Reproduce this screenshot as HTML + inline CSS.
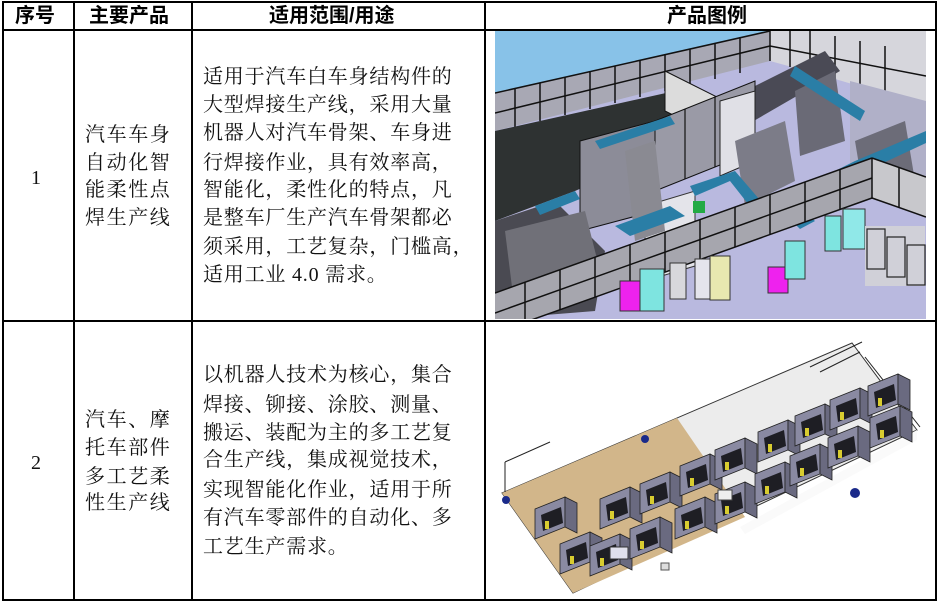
<!DOCTYPE html>
<html><head><meta charset="utf-8">
<style>
html,body{margin:0;padding:0;background:#fff;}
#p{position:relative;width:938px;height:601px;overflow:hidden;background:#fff;}
.l{position:absolute;background:#000;}
.t{position:absolute;font-family:"Liberation Serif","Noto Serif CJK SC",serif;font-size:20px;color:#111;white-space:nowrap;line-height:24px;}
.h{position:absolute;font-family:"Liberation Sans","Noto Sans CJK SC",sans-serif;font-weight:bold;font-size:20px;color:#000;white-space:nowrap;line-height:24px;top:4px;}
.c3{left:203px;letter-spacing:0.8px;}
.c2{left:85px;letter-spacing:1.6px;}
</style></head><body><div id="p">
<div class="l" style="left:2px;top:1px;width:935px;height:2px"></div>
<div class="l" style="left:2px;top:29px;width:935px;height:2px"></div>
<div class="l" style="left:2px;top:320px;width:935px;height:2px"></div>
<div class="l" style="left:2px;top:599px;width:935px;height:2px"></div>
<div class="l" style="left:2px;top:1px;width:2px;height:600px"></div>
<div class="l" style="left:73px;top:1px;width:2px;height:600px"></div>
<div class="l" style="left:191px;top:1px;width:2px;height:600px"></div>
<div class="l" style="left:484px;top:1px;width:2px;height:600px"></div>
<div class="l" style="left:935px;top:1px;width:2px;height:600px"></div>

<div class="h" style="left:15px">序号</div>
<div class="h" style="left:89px">主要产品</div>
<div class="h" style="left:269px">适用范围/用途</div>
<div class="h" style="left:667px">产品图例</div>

<div class="t" style="left:31px;top:166px">1</div>
<div class="t" style="left:31px;top:451px">2</div>

<div class="t c2" style="top:123px">汽车车身</div>
<div class="t c2" style="top:151px">自动化智</div>
<div class="t c2" style="top:178px">能柔性点</div>
<div class="t c2" style="top:206px">焊生产线</div>

<div class="t c2" style="top:408px">汽车、摩</div>
<div class="t c2" style="top:436px">托车部件</div>
<div class="t c2" style="top:465px">多工艺柔</div>
<div class="t c2" style="top:491px">性生产线</div>

<div class="t c3" style="top:65px">适用于汽车白车身结构件的</div>
<div class="t c3" style="top:93px">大型焊接生产线，采用大量</div>
<div class="t c3" style="top:121px">机器人对汽车骨架、车身进</div>
<div class="t c3" style="top:151px">行焊接作业，具有效率高，</div>
<div class="t c3" style="top:178px">智能化，柔性化的特点，凡</div>
<div class="t c3" style="top:206px">是整车厂生产汽车骨架都必</div>
<div class="t c3" style="top:235px">须采用，工艺复杂，门槛高，</div>
<div class="t c3" style="top:263px">适用工业 4.0 需求。</div>

<div class="t c3" style="top:363px">以机器人技术为核心，集合</div>
<div class="t c3" style="top:393px">焊接、铆接、涂胶、测量、</div>
<div class="t c3" style="top:421px">搬运、装配为主的多工艺复</div>
<div class="t c3" style="top:448px">合生产线，集成视觉技术，</div>
<div class="t c3" style="top:478px">实现智能化作业，适用于所</div>
<div class="t c3" style="top:506px">有汽车零部件的自动化、多</div>
<div class="t c3" style="top:535px">工艺生产需求。</div>

<!-- image 1 -->
<svg style="position:absolute;left:495px;top:31px" width="431" height="288" viewBox="0 0 431 288">
<rect width="431" height="288" fill="#b9b9df"/>
<polygon points="0,0 275,0 0,62" fill="#88c2e8"/>
<polygon points="0,62 275,0 275,30 0,100" fill="#a8a8b4"/>
<g stroke="#111" stroke-width="1.5">
<line x1="0" y1="62" x2="275" y2="0"/>
<line x1="0" y1="82" x2="275" y2="15"/>
<line x1="20" y1="58" x2="20" y2="96"/><line x1="45" y1="52" x2="45" y2="90"/>
<line x1="70" y1="46" x2="70" y2="84"/><line x1="95" y1="41" x2="95" y2="78"/>
<line x1="120" y1="35" x2="120" y2="72"/><line x1="145" y1="29" x2="145" y2="66"/>
<line x1="170" y1="23" x2="170" y2="60"/><line x1="195" y1="18" x2="195" y2="54"/>
<line x1="220" y1="12" x2="220" y2="48"/><line x1="245" y1="6" x2="245" y2="42"/>
</g>
<polygon points="275,0 431,0 431,75 330,45 275,30" fill="#d6d6dc"/>
<g stroke="#111" stroke-width="1.5">
<line x1="275" y1="0" x2="275" y2="30"/><line x1="295" y1="0" x2="295" y2="36"/>
<line x1="315" y1="0" x2="315" y2="42"/><line x1="340" y1="5" x2="340" y2="50"/>
<line x1="365" y1="10" x2="365" y2="57"/><line x1="390" y1="15" x2="390" y2="64"/>
<line x1="275" y1="15" x2="431" y2="45"/>
</g>
<polygon points="355,50 431,70 431,160 355,150" fill="#b0b0c8"/>
<polygon points="0,100 180,60 200,85 170,120 80,160 0,190" fill="#2e3232"/>
<polygon points="0,190 60,170 110,220 100,280 0,288" fill="#4a4a52"/>
<polygon points="170,40 230,70 230,110 170,80" fill="#dcdcdc" stroke="#111"/>
<polygon points="230,70 330,20 345,40 250,95" fill="#4a4a55"/>
<polygon points="85,110 160,90 160,180 85,200" fill="#8c8c98" stroke="#111"/>
<polygon points="160,90 260,50 260,120 160,160" fill="#9a9aa6" stroke="#111"/>
<g stroke="#111" stroke-width="1.2">
<line x1="190" y1="78" x2="190" y2="148"/><line x1="220" y1="66" x2="220" y2="136"/>
</g>
<polygon points="225,70 260,60 260,130 225,145" fill="#e0e0e6" stroke="#222"/>
<polygon points="150,175 200,160 200,235 150,250" fill="#e4e4ea" stroke="#333"/>
<polygon points="130,120 160,110 170,200 140,210" fill="#8a8a92"/>
<polygon points="240,110 290,90 300,150 250,175" fill="#7c7c88"/>
<polygon points="300,60 340,40 350,110 305,125" fill="#6a6a76"/>
<polygon points="360,110 410,90 420,150 370,170" fill="#6c6c78"/>
<polygon points="10,200 90,180 110,260 20,280" fill="#707078"/>
<polygon points="100,110 175,85 180,93 105,118" fill="#2a7ea6"/>
<polygon points="40,175 80,160 85,168 45,184" fill="#2a7ea6"/>
<polygon points="120,195 175,175 190,185 135,205" fill="#2a7ea6"/>
<polygon points="195,155 240,140 270,175 290,165 320,190 305,198 285,178 265,188 235,150 200,165" fill="#2a7ea6"/>
<polygon points="300,35 370,80 365,90 295,45" fill="#2a7ea6"/>
<polygon points="320,150 360,130 431,100 431,112 360,145 325,160" fill="#2a7ea6"/>
<polygon points="0,262 377,127 377,167 0,302" fill="#a6a6ae"/>
<polygon points="377,127 431,146 431,186 377,167" fill="#c8c8cc"/>
<g stroke="#111" stroke-width="1.5">
<line x1="0" y1="262" x2="377" y2="127"/><line x1="0" y1="302" x2="377" y2="167"/>
<line x1="377" y1="127" x2="431" y2="146"/><line x1="377" y1="167" x2="431" y2="186"/>
<line x1="0" y1="282" x2="377" y2="147"/>
<line x1="30" y1="251" x2="30" y2="291"/><line x1="65" y1="239" x2="65" y2="279"/>
<line x1="100" y1="226" x2="100" y2="266"/><line x1="135" y1="214" x2="135" y2="254"/>
<line x1="170" y1="201" x2="170" y2="241"/><line x1="205" y1="189" x2="205" y2="229"/>
<line x1="240" y1="176" x2="240" y2="216"/><line x1="275" y1="163" x2="275" y2="203"/>
<line x1="310" y1="151" x2="310" y2="191"/><line x1="345" y1="138" x2="345" y2="178"/>
<line x1="377" y1="127" x2="377" y2="167"/><line x1="404" y1="136" x2="404" y2="176"/>
</g>
<rect x="198" y="170" width="12" height="12" fill="#22aa44"/>
<rect x="125" y="250" width="20" height="30" fill="#ee22ee" stroke="#333"/>
<rect x="145" y="238" width="24" height="42" fill="#7ee4e0" stroke="#333"/>
<rect x="175" y="232" width="16" height="36" fill="#d8d8dc" stroke="#333"/>
<rect x="200" y="228" width="16" height="40" fill="#e4e4ec" stroke="#333"/>
<rect x="215" y="225" width="20" height="44" fill="#e8e8b0" stroke="#333"/>
<rect x="273" y="236" width="20" height="26" fill="#ee22ee" stroke="#333"/>
<rect x="290" y="210" width="20" height="38" fill="#7ee4e0" stroke="#333"/>
<rect x="330" y="185" width="16" height="35" fill="#7ee4e0" stroke="#333"/>
<rect x="348" y="178" width="22" height="40" fill="#90e8e8" stroke="#333"/>
<rect x="370" y="195" width="60" height="60" fill="#d0d0d8"/>
<g stroke="#222" stroke-width="1.2" fill="none">
<rect x="372" y="198" width="18" height="40"/><rect x="392" y="206" width="18" height="40"/><rect x="412" y="214" width="18" height="40"/>
</g>
</svg>

<!-- image 2 -->
<svg style="position:absolute;left:490px;top:322px" width="445" height="277" viewBox="0 0 445 277">
<defs>
<g id="cell">
<polygon points="0,12 30,0 30,30 0,42" fill="#8a8aa2" stroke="#222" stroke-width="0.8"/>
<polygon points="30,0 42,6 42,36 30,30" fill="#6a6a80" stroke="#222" stroke-width="0.8"/>
<polygon points="6,18 26,10 28,26 8,34" fill="#1e1e24"/>
<rect x="10" y="24" width="4" height="8" fill="#d8cc30"/>
</g>
</defs>
<polygon points="12,171 362,21 427,108 83,271" fill="#ececec" stroke="#333" stroke-width="1"/>
<polygon points="12,171 187,96 255,195 83,271" fill="#d2b68a"/>
<polygon points="250,205 427,108 427,118 255,212" fill="#fafafa"/>
<g stroke="#222" stroke-width="1" fill="none">
<line x1="15" y1="140" x2="60" y2="120"/><line x1="15" y1="140" x2="15" y2="170"/>
<line x1="330" y1="50" x2="370" y2="30"/><line x1="320" y1="45" x2="372" y2="20"/>
<line x1="375" y1="35" x2="430" y2="105"/>
</g>
<use href="#cell" x="45" y="175"/>
<use href="#cell" x="110" y="165"/>
<use href="#cell" x="70" y="210"/>
<use href="#cell" x="100" y="212"/>
<use href="#cell" x="150" y="150"/>
<use href="#cell" x="140" y="195"/>
<use href="#cell" x="190" y="132"/>
<use href="#cell" x="185" y="175"/>
<use href="#cell" x="225" y="116"/>
<use href="#cell" x="225" y="160"/>
<use href="#cell" x="268" y="98"/>
<use href="#cell" x="265" y="140"/>
<use href="#cell" x="305" y="82"/>
<use href="#cell" x="300" y="122"/>
<use href="#cell" x="340" y="66"/>
<use href="#cell" x="338" y="104"/>
<use href="#cell" x="378" y="52"/>
<use href="#cell" x="380" y="84"/>
<rect x="120" y="225" width="18" height="12" fill="#e0e0ec" stroke="#333"/>
<rect x="228" y="168" width="14" height="10" fill="#eee" stroke="#444"/>
<circle cx="16" cy="178" r="4" fill="#1a2a8a"/>
<circle cx="155" cy="117" r="4" fill="#1a2a8a"/>
<circle cx="365" cy="171" r="5" fill="#1a2a8a"/>
<rect x="171" y="241" width="8" height="7" fill="#ddd" stroke="#555"/>
</svg>
</div></body></html>
